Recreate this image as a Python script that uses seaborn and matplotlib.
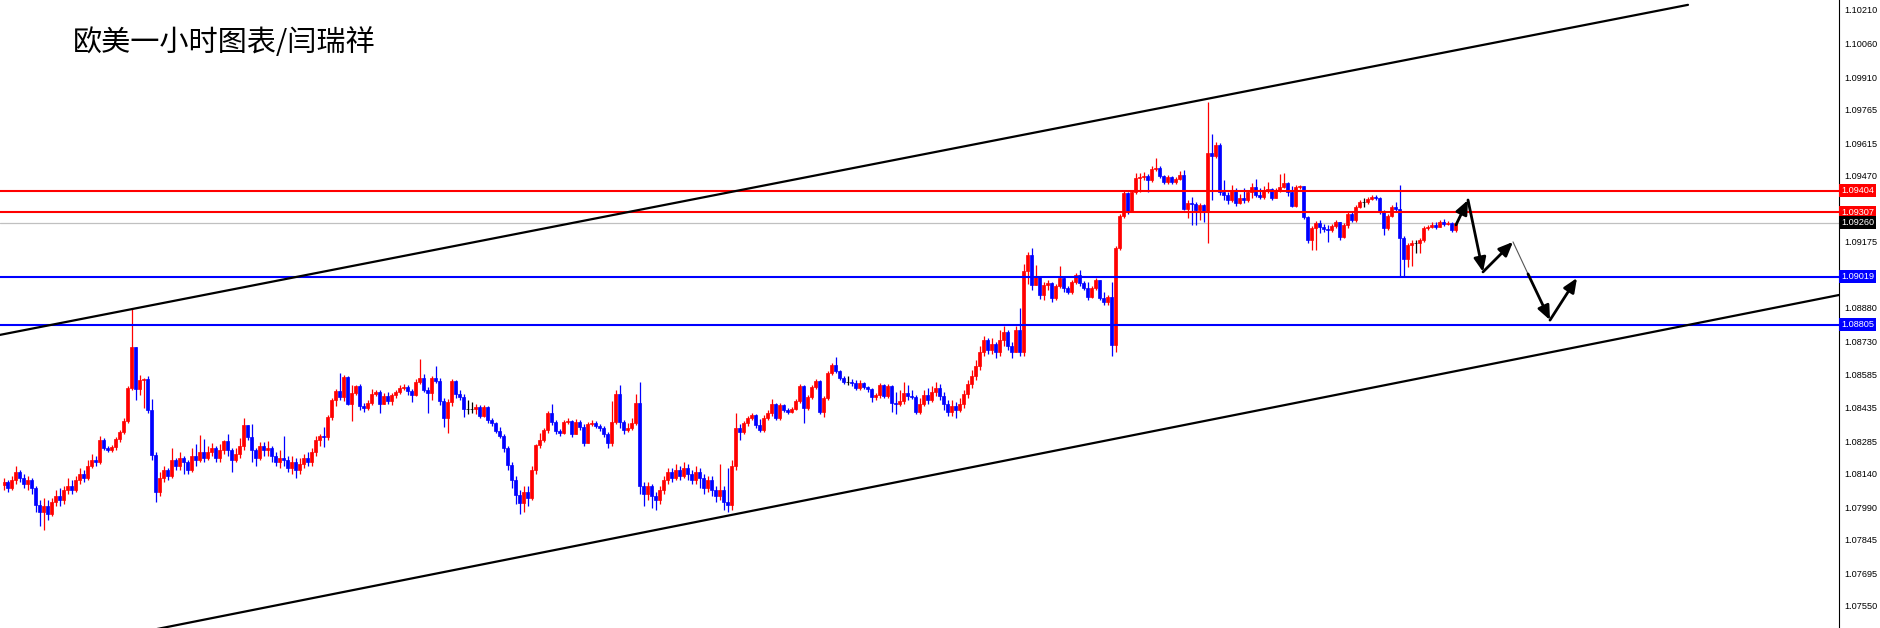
import numpy as np
import pandas as pd
import seaborn as sns
import matplotlib.pyplot as plt
import matplotlib.transforms as mtransforms

# ---------------------- Data (EURUSD H1, pips above 1.0800) ----------------------
BASE = 1.08
first_open_pips = 9.0

close_pips = [
    10.4, 7.7, 11.3, 14.8, 12.2, 9.5, 11.3, 7.7, 0.1, -3.0,
    -0.3, -3.9, 1.5, 4.1, 2.4, 6.8, 8.6, 6.8, 11.3, 13.9,
    12.2, 17.5, 20.2, 19.3, 29.1, 25.6, 24.7, 26.0, 29.6, 32.7,
    37.6, 52.3, 70.6, 51.9, 55.9, 56.3, 42.5, 22.4, 5.9, 12.2,
    15.7, 13.1, 20.2, 17.5, 21.1, 19.3, 15.7, 22.0, 20.2, 23.8,
    21.1, 23.8, 25.6, 21.1, 24.7, 28.7, 24.7, 20.2, 22.9, 26.4,
    35.8, 30.5, 24.7, 21.1, 26.4, 24.7, 25.6, 22.0, 19.3, 21.1,
    20.2, 16.6, 19.3, 15.7, 18.4, 21.1, 19.3, 23.8, 29.1, 30.9,
    30.5, 39.4, 47.0, 51.0, 48.3, 57.2, 45.2, 50.1, 53.2, 44.3,
    43.4, 45.6, 49.7, 50.5, 45.2, 48.8, 46.5, 49.2, 50.5, 52.3,
    52.8, 51.0, 49.2, 55.0, 56.8, 51.4, 50.1, 56.8, 55.5, 46.5,
    38.9, 46.1, 55.5, 49.7, 48.3, 43.0, 43.0, 43.0, 43.9, 39.8,
    43.9, 38.0, 36.7, 33.1, 30.9, 25.6, 18.0, 11.3, 4.6, 1.0,
    5.9, 3.2, 15.7, 26.9, 29.1, 33.6, 41.2, 37.2, 33.1, 32.3,
    37.2, 37.6, 31.8, 37.2, 34.9, 27.8, 36.3, 36.7, 35.4, 34.5,
    31.8, 27.8, 37.2, 49.7, 37.2, 33.6, 34.5, 36.7, 45.6, 8.6,
    5.0, 8.6, 4.1, 2.4, 6.8, 11.3, 14.8, 12.2, 15.7, 13.1,
    16.6, 13.9, 11.3, 14.8, 12.2, 7.7, 11.3, 6.8, 4.1, 6.8,
    1.5, 0.1, 17.5, 34.5, 32.7, 36.7, 38.9, 40.3, 35.8, 33.6,
    38.9, 41.2, 45.2, 38.9, 44.7, 42.5, 41.6, 43.0, 46.5, 53.2,
    43.4, 48.3, 52.8, 55.5, 41.6, 47.9, 59.0, 62.6, 59.9, 56.8,
    55.0, 55.0, 54.6, 52.3, 54.6, 52.8, 51.9, 48.3, 49.2, 53.7,
    48.8, 53.2, 45.6, 45.2, 46.5, 50.1, 48.8, 48.3, 41.6, 45.2,
    49.2, 47.0, 50.5, 52.3, 48.8, 45.2, 41.6, 44.3, 42.5, 45.2,
    49.7, 54.1, 57.7, 62.2, 68.4, 73.8, 69.3, 72.0, 68.4, 73.8,
    77.3, 71.1, 68.4, 78.2, 68.4, 104.5, 111.7, 98.3, 101.9, 93.8,
    98.3, 99.2, 92.5, 97.9, 101.4, 97.0, 95.2, 99.6, 102.8, 99.2,
    97.0, 92.9, 97.0, 100.5, 92.5, 90.7, 92.9, 71.5, 114.8, 129.1,
    139.4, 131.3, 139.8, 146.1, 146.5, 146.9, 145.2, 150.1, 150.5, 146.9,
    144.3, 146.5, 144.3, 145.6, 147.4, 132.2, 134.9, 134.5, 131.8, 134.0,
    130.9, 157.2, 155.9, 160.8, 139.8, 138.5, 136.2, 140.7, 134.9, 137.1,
    136.2, 139.8, 142.0, 138.5, 137.6, 140.7, 141.1, 137.1, 140.7, 142.0,
    143.8, 139.8, 133.6, 142.0, 142.5, 128.7, 118.4, 123.7, 126.0, 124.2,
    123.3, 122.8, 124.6, 126.4, 119.7, 125.1, 130.0, 127.3, 133.1, 135.3,
    135.3, 136.7, 137.6, 137.1, 130.9, 123.7, 129.1, 133.1, 132.2, 119.3,
    109.9, 116.2, 117.0, 117.0, 118.4, 123.7, 124.2, 125.1, 124.2, 126.4,
    125.5, 126.0, 122.8, 126.0,
]

high_pips = [
    12.2, 11.3, 13.1, 17.5, 15.7, 13.9, 13.1, 12.2, 8.6, 2.4,
    3.2, 2.4, 3.2, 6.8, 7.7, 8.6, 12.2, 11.3, 13.1, 16.6,
    15.7, 20.2, 22.9, 22.0, 30.9, 30.0, 26.4, 26.9, 30.5, 33.6,
    38.9, 53.2, 87.6, 70.6, 58.1, 56.8, 57.7, 47.4, 23.8, 14.8,
    17.5, 16.6, 25.6, 21.1, 23.8, 22.0, 20.2, 25.6, 27.3, 31.4,
    29.6, 26.4, 27.8, 26.4, 27.3, 29.1, 31.8, 25.6, 25.6, 30.0,
    38.9, 35.8, 36.3, 25.6, 28.2, 28.2, 28.7, 26.4, 23.8, 24.7,
    30.9, 22.0, 22.0, 21.1, 21.1, 22.9, 23.8, 25.6, 30.9, 31.8,
    34.9, 40.3, 47.9, 51.9, 59.0, 58.1, 57.7, 53.7, 53.7, 54.1,
    45.6, 47.0, 51.9, 51.4, 51.4, 50.1, 50.5, 50.1, 51.4, 53.7,
    54.1, 53.7, 51.9, 56.3, 65.3, 58.6, 52.8, 57.7, 62.2, 56.8,
    47.9, 47.4, 56.3, 55.9, 51.4, 49.7, 47.0, 46.1, 45.2, 44.7,
    44.7, 44.3, 38.9, 37.2, 34.9, 31.8, 26.4, 19.3, 13.1, 6.8,
    8.6, 8.6, 17.5, 27.3, 32.3, 34.5, 42.1, 45.2, 38.0, 34.0,
    38.0, 38.9, 38.0, 38.5, 38.0, 36.3, 37.2, 38.0, 37.6, 36.3,
    35.4, 32.7, 46.5, 51.4, 53.7, 38.0, 36.7, 38.9, 49.7, 55.0,
    10.4, 10.4, 9.5, 5.9, 8.6, 13.1, 16.6, 16.6, 18.4, 17.5,
    19.3, 18.4, 15.7, 17.5, 16.6, 13.9, 13.1, 13.1, 8.6, 18.4,
    8.6, 16.6, 20.2, 41.2, 36.3, 37.6, 39.8, 41.2, 40.7, 38.5,
    40.3, 42.5, 47.4, 45.6, 45.6, 45.2, 43.4, 43.9, 47.4, 54.1,
    53.7, 49.2, 53.7, 56.3, 55.9, 48.8, 59.9, 63.5, 66.2, 60.4,
    57.7, 57.7, 56.3, 55.9, 55.9, 55.0, 53.2, 52.3, 50.1, 54.6,
    54.1, 54.1, 53.7, 50.5, 51.4, 55.0, 53.7, 51.4, 49.2, 47.9,
    51.4, 52.3, 53.2, 55.0, 54.1, 50.5, 47.0, 47.0, 46.1, 47.9,
    51.4, 55.9, 60.4, 64.8, 71.1, 75.5, 74.7, 74.7, 72.9, 78.2,
    80.0, 78.2, 72.9, 80.0, 88.0, 107.7, 113.0, 114.8, 107.2, 102.3,
    99.6, 100.5, 99.6, 98.7, 106.8, 102.3, 97.9, 100.5, 103.7, 105.0,
    100.1, 99.6, 97.9, 101.4, 100.5, 95.2, 93.8, 99.6, 115.7, 130.0,
    140.3, 139.8, 140.7, 148.3, 148.3, 148.7, 147.8, 151.4, 155.0, 151.4,
    147.4, 147.4, 146.9, 146.5, 149.2, 149.6, 136.2, 137.6, 135.3, 134.9,
    134.5, 180.0, 165.7, 162.1, 161.7, 145.2, 139.8, 142.9, 141.6, 138.9,
    141.6, 140.7, 143.8, 145.6, 141.6, 142.5, 144.3, 141.6, 141.6, 147.8,
    148.3, 144.3, 142.5, 142.9, 142.9, 142.5, 129.1, 124.6, 126.9, 127.3,
    125.5, 125.1, 125.5, 127.3, 126.4, 126.0, 130.9, 130.9, 134.0, 136.2,
    137.1, 137.6, 138.5, 138.5, 137.6, 131.8, 130.0, 134.0, 135.3, 142.9,
    120.2, 117.0, 118.4, 118.4, 119.3, 124.6, 125.1, 126.4, 126.4, 127.3,
    127.8, 126.9, 126.4, 126.4,
]

low_pips = [
    6.8, 5.9, 6.8, 9.5, 10.4, 7.7, 6.8, 5.0, -3.0, -9.3,
    -11.1, -6.6, -4.8, -0.3, -0.3, 0.6, 5.0, 5.0, 5.9, 9.5,
    10.4, 11.3, 16.6, 17.5, 18.4, 24.7, 23.8, 23.8, 24.7, 28.2,
    31.8, 36.7, 51.4, 47.0, 49.2, 43.4, 41.2, 20.2, 1.5, 4.1,
    10.4, 11.3, 12.2, 15.7, 15.7, 13.9, 13.9, 14.8, 17.5, 19.3,
    19.3, 20.2, 22.0, 19.3, 19.3, 22.9, 22.0, 14.8, 19.3, 21.1,
    24.7, 29.1, 19.3, 17.5, 20.2, 22.0, 22.0, 19.3, 17.5, 16.6,
    17.5, 14.8, 13.9, 12.2, 13.9, 16.6, 17.5, 17.5, 22.0, 26.4,
    26.0, 29.1, 38.0, 44.3, 47.0, 46.5, 44.7, 37.6, 49.2, 42.5,
    41.6, 42.5, 44.7, 48.8, 41.2, 45.2, 45.2, 44.7, 47.9, 49.7,
    51.4, 49.2, 46.1, 48.8, 54.1, 50.5, 41.2, 47.0, 54.6, 44.7,
    34.9, 32.3, 44.3, 47.9, 47.0, 39.4, 40.7, 41.2, 40.7, 38.9,
    39.4, 36.7, 35.4, 32.3, 30.0, 23.8, 15.7, 7.7, 0.6, -3.9,
    -3.0, -0.3, 2.4, 13.9, 25.6, 28.2, 32.3, 35.8, 31.8, 30.9,
    31.8, 36.3, 30.5, 32.7, 33.6, 26.4, 27.8, 35.4, 34.5, 33.1,
    30.5, 25.6, 26.4, 36.3, 34.5, 31.8, 32.7, 33.6, 35.8, 5.0,
    -0.3, 2.4, -1.2, -2.1, 0.6, 5.0, 9.5, 10.4, 11.3, 11.3,
    12.2, 11.3, 9.5, 9.5, 7.7, 5.0, 5.9, 4.1, 1.5, 2.4,
    -2.1, -3.0, -2.1, 15.7, 29.1, 31.8, 35.4, 38.0, 34.5, 32.7,
    32.7, 38.0, 39.8, 38.0, 38.0, 41.6, 40.7, 41.2, 42.5, 45.6,
    36.7, 42.5, 47.4, 51.9, 40.7, 39.4, 47.0, 58.1, 59.0, 55.9,
    54.1, 53.7, 53.2, 51.4, 51.4, 51.9, 50.5, 46.1, 47.0, 47.9,
    47.9, 47.9, 41.6, 40.7, 44.3, 45.2, 47.0, 47.4, 40.7, 40.7,
    44.3, 45.2, 46.1, 48.8, 47.0, 42.5, 39.8, 39.8, 38.9, 41.6,
    43.4, 47.9, 52.3, 55.9, 60.4, 66.6, 67.5, 67.5, 65.7, 66.6,
    71.1, 69.3, 65.7, 68.4, 66.6, 66.6, 98.7, 96.1, 99.2, 92.1,
    91.6, 96.1, 90.7, 91.6, 97.0, 95.2, 94.3, 94.3, 98.7, 97.9,
    96.1, 91.6, 92.5, 96.1, 91.6, 89.4, 89.4, 66.6, 68.4, 113.9,
    128.2, 130.0, 134.9, 138.9, 139.8, 145.2, 139.8, 144.3, 149.2, 146.1,
    143.4, 143.4, 143.4, 143.4, 145.2, 131.8, 128.2, 125.1, 125.1, 127.3,
    126.4, 117.0, 136.2, 155.0, 138.5, 136.2, 134.5, 135.3, 133.6, 134.5,
    134.9, 135.3, 137.1, 137.6, 136.7, 136.7, 139.4, 136.2, 137.1, 139.8,
    141.6, 138.0, 133.1, 133.1, 141.1, 127.8, 117.0, 113.9, 113.9, 121.5,
    122.0, 117.5, 122.0, 123.7, 118.4, 119.3, 123.7, 126.4, 126.4, 132.7,
    133.1, 134.5, 136.2, 136.2, 130.0, 120.6, 122.8, 128.7, 131.3, 101.9,
    101.9, 106.3, 106.8, 112.6, 112.6, 117.5, 122.8, 123.7, 123.3, 124.6,
    124.6, 125.1, 122.0, 122.0,
]

# levels drawn on the chart
red_levels = [1.09404, 1.09307]
blue_levels = [1.09019, 1.08805]
bid_level = 1.09260

# channel lines (bar index, price)
upper_channel_x = [-1, 421]
upper_channel_y = [1.08760, 1.10233]
lower_channel_x = [30, 458.75]
lower_channel_y = [1.07418, 1.08938]

# projected path arrows (bar index, price)
path_x = [363, 366, 369.75, 377.25, 381, 386.5, 393.25]
path_y = [1.09251, 1.09362, 1.09041, 1.09175, 1.09032, 1.08826, 1.09014]

tick_values = [1.10210, 1.10060, 1.09910, 1.09765, 1.09615, 1.09470, 1.09175,
               1.08880, 1.08730, 1.08585, 1.08435, 1.08285, 1.08140, 1.07990,
               1.07845, 1.07695, 1.07550]

title_text = "欧美一小时图表/闫瑞祥"

# ---------------------- Build OHLC frame ----------------------
df = pd.DataFrame({"close": close_pips, "high": high_pips, "low": low_pips})
df["open"] = [first_open_pips] + close_pips[:-1]
for col in ["open", "high", "low", "close"]:
    df[col] = BASE + df[col] / 10000.0
df["high"] = df[["high", "open", "close"]].max(axis=1)
df["low"] = df[["low", "open", "close"]].min(axis=1)
df["x"] = np.arange(len(df))
df["color"] = np.where(df["close"] > df["open"] + 1e-9, "#FF0000",
                       np.where(df["close"] < df["open"] - 1e-9, "#0000FF", "#000000"))

# ---------------------- Plot ----------------------
sns.set_theme(style="white")
plt.rcParams["font.family"] = ["Liberation Sans", "Noto Sans CJK SC"]

fig = plt.figure(figsize=(18.8, 6.28), dpi=100)
ax = fig.add_axes([0, 0, 1839 / 1880, 1])
ax.set_facecolor("white")

ax.vlines(df["x"], df["low"], df["high"], colors=df["color"], lw=0.9, zorder=2)
ax.bar(df["x"], (df["close"] - df["open"]).abs(), bottom=df[["open", "close"]].min(axis=1),
       width=0.75, color=df["color"], edgecolor=df["color"], linewidth=0.5, zorder=3)

for lv in red_levels:
    ax.axhline(lv, color="#FF0000", lw=1.5, zorder=4)
for lv in blue_levels:
    ax.axhline(lv, color="#0000FF", lw=1.5, zorder=4)
ax.axhline(bid_level, color="#C0C0C0", lw=0.9, zorder=1)

ax.plot(upper_channel_x, upper_channel_y, color="black", lw=1.6, zorder=4)
ax.plot(lower_channel_x, lower_channel_y, color="black", lw=1.6, zorder=4)

# projected path
arrow_kw = dict(arrowstyle="-|>,head_length=0.7,head_width=0.3", color="black",
                lw=2.0, shrinkA=0, shrinkB=0)
for k in [0, 1, 2, 4, 5]:
    ax.annotate("", xy=(path_x[k + 1], path_y[k + 1]), xytext=(path_x[k], path_y[k]),
                arrowprops=arrow_kw, zorder=6)
ax.plot(path_x[3:5], path_y[3:5], color="#555555", lw=0.8, zorder=5)

ax.set_xlim(-1, 458.75)
ax.set_ylim(1.074518, 1.102546)
ax.set_xticks([])
ax.yaxis.tick_right()
ax.set_yticks(tick_values)
ax.set_yticklabels([f"{v:.5f}" for v in tick_values])
ax.tick_params(axis="y", which="major", right=True, length=2.2, width=0.8, pad=1.5,
               labelsize=6.6, colors="black", direction="out")
sns.despine(ax=ax, left=True, top=True, bottom=True, right=False)
ax.spines["right"].set_color("black")
ax.spines["right"].set_linewidth(0.8)

# price labels on the axis
trans = mtransforms.blended_transform_factory(ax.transAxes, ax.transData)
level_boxes = [(red_levels[0], "#FF0000"), (red_levels[1], "#FF0000"),
               (bid_level, "#000000"), (blue_levels[0], "#0000FF"), (blue_levels[1], "#0000FF")]
for lv, col in level_boxes:
    ax.text(1.0012, lv, f"{lv:.5f}", transform=trans, ha="left", va="center",
            fontsize=6.6, color="white", clip_on=False, zorder=10,
            bbox=dict(boxstyle="square,pad=0.22", facecolor=col, edgecolor="none"))

fig.text(73 / 1880, 1 - 43 / 628, title_text, fontsize=21, ha="left", va="center",
         family=["Noto Sans CJK SC", "DejaVu Sans"], color="black")

fig.savefig("out.png", dpi=100, facecolor="white")
